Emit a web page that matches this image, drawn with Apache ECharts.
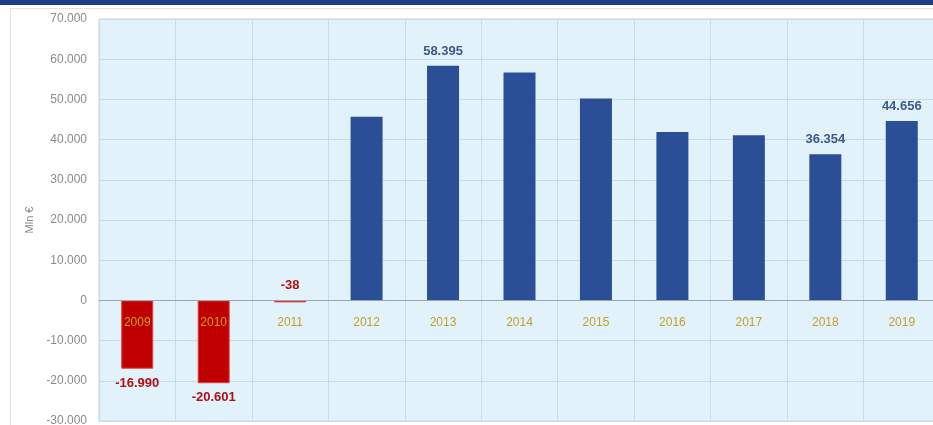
<!DOCTYPE html>
<html><head><meta charset="utf-8">
<script src="https://cdn.jsdelivr.net/npm/echarts@6/dist/echarts.min.js"></script>
<style>html,body{margin:0;padding:0;background:#fff}#c{width:933px;height:425px}</style>
</head><body><div id="c"></div>
<script>
const years = ['2009','2010','2011','2012','2013','2014','2015','2016','2017','2018','2019'];
const values = [-16990, -20601, -38, 45700, 58395, 56700, 50200, 41900, 41100, 36354, 44656];
const showLabel = [true, true, true, false, true, false, false, false, false, true, true];
const yTicks = [-30000, 70000, 10000]; // min, max, step

function fmt(v){
  const s = Math.abs(v).toString().replace(/\B(?=(\d{3})+(?!\d))/g, '.');
  return (v < 0 ? '-' : '') + s;
}

const chart = echarts.init(document.getElementById('c'));
const data = values.map((v, i) => {
  const neg = v < 0;
  return {
    value: v,
    itemStyle: neg ? {color: '#c00000', borderColor: '#e8413c', borderWidth: 1} : {color: '#2b4f97'},
    label: {
      show: showLabel[i],
      position: neg && v < -1000 ? 'bottom' : 'top',
      distance: 8,
      color: neg ? '#b01010' : '#3d5a8a',
      fontWeight: 'bold',
      fontSize: 13,
      fontFamily: 'Liberation Sans',
      formatter: () => fmt(v)
    }
  };
});

chart.setOption({
  animation: false,
  backgroundColor: '#fff',
  graphic: [
    {type: 'rect', shape: {x: 0, y: 0, width: 933, height: 5}, style: {fill: '#1f3c8c'}, z: 100},
    {type: 'rect', shape: {x: 10.5, y: 8.5, width: 940, height: 430}, style: {fill: 'none', stroke: '#e2e2e2', lineWidth: 1}, z: -1}
  ],
  grid: {left: 99, top: 19, width: 841, height: 402, outerBoundsMode: 'none', containLabel: false,
         backgroundColor: '#e2f2fb', show: true, borderColor: '#c7d6df', borderWidth: 1},
  xAxis: {
    type: 'category', data: years, z: 10,
    axisLine: {onZero: true, lineStyle: {color: '#9aa6ad', width: 1}},
    axisTick: {show: false},
    axisLabel: {color: '#c69f28', fontSize: 12, margin: -104, fontFamily: 'Liberation Sans'},
    splitLine: {show: true, lineStyle: {color: '#cbdbe3'}}
  },
  yAxis: {
    type: 'value', min: yTicks[0], max: yTicks[1], interval: yTicks[2],
    name: 'Mln €', nameLocation: 'middle', nameGap: 64, nameRotate: 90,
    nameTextStyle: {color: '#888', fontSize: 11, fontFamily: 'Liberation Sans'},
    axisLine: {show: false}, axisTick: {show: false},
    axisLabel: {color: '#8a8a8a', fontSize: 12, margin: 12, fontFamily: 'Liberation Sans', formatter: v => fmt(v)},
    splitLine: {lineStyle: {color: '#cbdbe3'}}
  },
  series: [{type: 'bar', data: data, barWidth: 32, barMinHeight: 2}]
});
</script></body></html>
